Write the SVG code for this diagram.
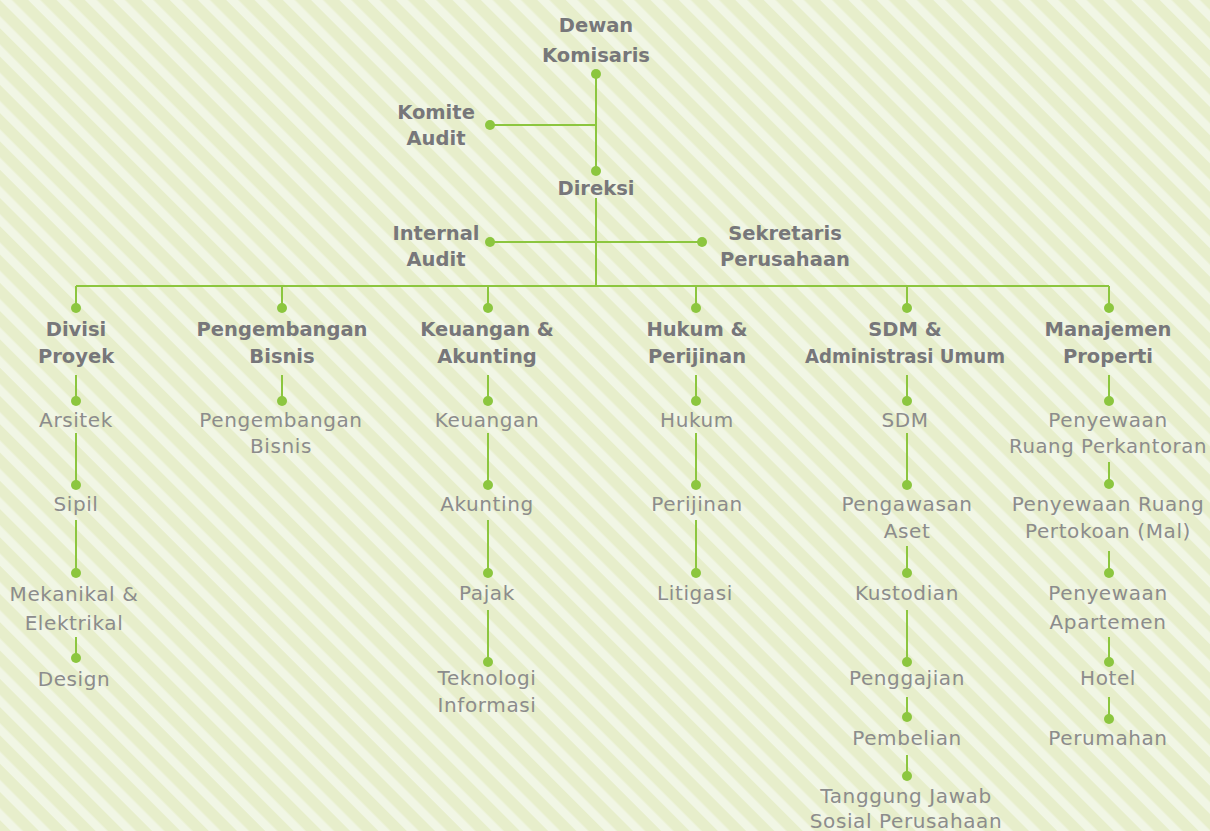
<svg xmlns="http://www.w3.org/2000/svg" width="1210" height="831" viewBox="0 0 1210 831">
<style>
.h{font-family:"DejaVu Sans","Liberation Sans",sans-serif;font-weight:bold;font-size:19.5px;fill:#77777a;text-anchor:middle}
.t{font-family:"DejaVu Sans","Liberation Sans",sans-serif;font-size:20px;letter-spacing:0.6px;fill:#8c8c8c;text-anchor:middle}
.ln{stroke:#8cc63f;stroke-width:2;fill:none}
.dot{fill:#8cc63f}
</style>
<defs>
<pattern id="stripes" width="20" height="20" patternUnits="userSpaceOnUse" patternTransform="rotate(-45)">
<rect width="20" height="20" fill="#e7eecb"/>
<rect width="8.5" height="20" fill="#f1f6e5"/>
</pattern>
</defs>
<rect width="1210" height="831" fill="url(#stripes)"/>
<g id="connectors">
<path class="ln" d="M596 74V171M490 125H596M596 198V286M490 242H702M76 286H1109M76 286V308M282 286V308M488 286V308M696 286V308M907 286V308M1109 286V308"/>
<path class="ln" d="M76 375V401M76 433V485M76 520V573M76 637V658"/>
<path class="ln" d="M282 375V401"/>
<path class="ln" d="M488 375V401M488 433V485M488 520V573M488 610V662"/>
<path class="ln" d="M696 375V401M696 433V485M696 520V573"/>
<path class="ln" d="M907 375V401M907 433V485M907 546V573M907 610V662M907 697V717M907 755V776"/>
<path class="ln" d="M1109 375V401M1109 462V485M1109 551V573M1109 637V662M1109 697V719"/>
<g class="dot">
<circle cx="596" cy="74" r="5"/><circle cx="596" cy="171" r="5"/><circle cx="490" cy="125" r="5"/>
<circle cx="490" cy="242" r="5"/><circle cx="702" cy="242" r="5"/>
<circle cx="76" cy="308" r="5"/><circle cx="282" cy="308" r="5"/><circle cx="488" cy="308" r="5"/><circle cx="696" cy="308" r="5"/><circle cx="907" cy="308" r="5"/><circle cx="1109" cy="308" r="5"/>
<circle cx="76" cy="401" r="5"/><circle cx="76" cy="485" r="5"/><circle cx="76" cy="573" r="5"/><circle cx="76" cy="658" r="5"/>
<circle cx="282" cy="401" r="5"/>
<circle cx="488" cy="401" r="5"/><circle cx="488" cy="485" r="5"/><circle cx="488" cy="573" r="5"/><circle cx="488" cy="662" r="5"/>
<circle cx="696" cy="401" r="5"/><circle cx="696" cy="485" r="5"/><circle cx="696" cy="573" r="5"/>
<circle cx="907" cy="401" r="5"/><circle cx="907" cy="485" r="5"/><circle cx="907" cy="573" r="5"/><circle cx="907" cy="662" r="5"/><circle cx="907" cy="717" r="5"/><circle cx="907" cy="776" r="5"/>
<circle cx="1109" cy="401" r="5"/><circle cx="1109" cy="484" r="5"/><circle cx="1109" cy="573" r="5"/><circle cx="1109" cy="662" r="5"/><circle cx="1109" cy="719" r="5"/>
</g>
</g>
<g id="dewan-komisaris"><text class="h" x="596" y="32">Dewan</text><text class="h" x="596" y="62">Komisaris</text></g>
<g id="komite-audit"><text class="h" x="436" y="119">Komite</text><text class="h" x="436" y="145">Audit</text></g>
<g id="direksi"><text class="h" x="596" y="195">Direksi</text></g>
<g id="internal-audit"><text class="h" x="436" y="240">Internal</text><text class="h" x="436" y="266">Audit</text></g>
<g id="sekretaris"><text class="h" x="785" y="240">Sekretaris</text><text class="h" x="785" y="266">Perusahaan</text></g>
<g id="divisi-proyek"><text class="h" x="76" y="336">Divisi</text><text class="h" x="76" y="363">Proyek</text></g>
<g id="pengembangan-bisnis"><text class="h" x="282" y="336">Pengembangan</text><text class="h" x="282" y="363">Bisnis</text></g>
<g id="keuangan-akunting"><text class="h" x="487" y="336">Keuangan &amp;</text><text class="h" x="487" y="363">Akunting</text></g>
<g id="hukum-perijinan"><text class="h" x="697" y="336">Hukum &amp;</text><text class="h" x="697" y="363">Perijinan</text></g>
<g id="sdm-adm"><text class="h" x="905" y="336">SDM &amp;</text><text class="h" x="905" y="363" textLength="200" lengthAdjust="spacingAndGlyphs">Administrasi Umum</text></g>
<g id="manajemen-properti"><text class="h" x="1108" y="336">Manajemen</text><text class="h" x="1108" y="363">Properti</text></g>
<g id="arsitek"><text class="t" x="76" y="427">Arsitek</text></g>
<g id="sipil"><text class="t" x="76" y="511">Sipil</text></g>
<g id="mekanikal"><text class="t" x="74" y="601">Mekanikal &amp;</text><text class="t" x="74" y="630">Elektrikal</text></g>
<g id="design"><text class="t" x="74" y="686">Design</text></g>
<g id="pengembangan-bisnis-sub"><text class="t" x="281" y="427">Pengembangan</text><text class="t" x="281" y="453">Bisnis</text></g>
<g id="keuangan"><text class="t" x="487" y="427">Keuangan</text></g>
<g id="akunting"><text class="t" x="487" y="511">Akunting</text></g>
<g id="pajak"><text class="t" x="487" y="600">Pajak</text></g>
<g id="teknologi"><text class="t" x="487" y="685">Teknologi</text><text class="t" x="487" y="712">Informasi</text></g>
<g id="hukum"><text class="t" x="697" y="427">Hukum</text></g>
<g id="perijinan"><text class="t" x="697" y="511">Perijinan</text></g>
<g id="litigasi"><text class="t" x="695" y="600">Litigasi</text></g>
<g id="sdm"><text class="t" x="905" y="427">SDM</text></g>
<g id="pengawasan-aset"><text class="t" x="907" y="511">Pengawasan</text><text class="t" x="907" y="538">Aset</text></g>
<g id="kustodian"><text class="t" x="907" y="600">Kustodian</text></g>
<g id="penggajian"><text class="t" x="907" y="685">Penggajian</text></g>
<g id="pembelian"><text class="t" x="907" y="745">Pembelian</text></g>
<g id="tjsp"><text class="t" x="906" y="803">Tanggung Jawab</text><text class="t" x="906" y="828">Sosial Perusahaan</text></g>
<g id="penyewaan-kantor"><text class="t" x="1108" y="427">Penyewaan</text><text class="t" x="1108" y="453" textLength="198" lengthAdjust="spacingAndGlyphs">Ruang Perkantoran</text></g>
<g id="penyewaan-mal"><text class="t" x="1108" y="511">Penyewaan Ruang</text><text class="t" x="1108" y="538">Pertokoan (Mal)</text></g>
<g id="apartemen"><text class="t" x="1108" y="600">Penyewaan</text><text class="t" x="1108" y="629">Apartemen</text></g>
<g id="hotel"><text class="t" x="1108" y="685">Hotel</text></g>
<g id="perumahan"><text class="t" x="1108" y="745">Perumahan</text></g>
</svg>
